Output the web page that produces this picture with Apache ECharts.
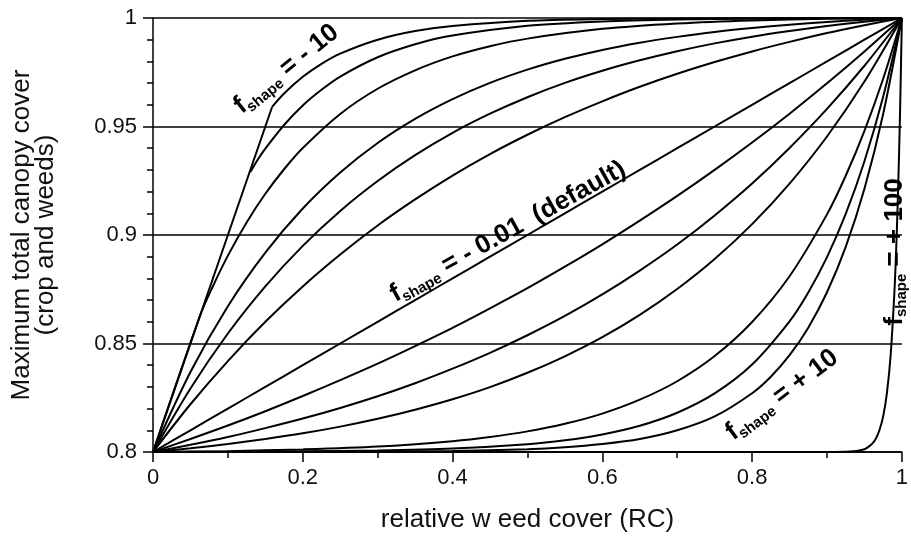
<!DOCTYPE html>
<html>
<head>
<meta charset="utf-8">
<script src="https://cdn.jsdelivr.net/npm/echarts@6/dist/echarts.min.js"></script>
<style>
  html, body { margin: 0; padding: 0; background: #fff; }
  #chart { width: 911px; height: 554px; }
</style>
</head>
<body>
<div id="chart"></div>
<script>
// Maximum total canopy cover (crop + weeds) versus relative weed cover,
// one curve per shape factor f_shape.

// Upper limit shared by the steepest curves before they bend away
const rcLimit = [0, 0.159];
const ccLimit = [0.8, 0.959];

// f_shape = -10
const rcNeg10 = [0.159, 0.175, 0.2, 0.225, 0.25, 0.3, 0.35, 0.4, 0.5, 0.6, 0.7, 0.8, 1];
const ccNeg10 = [0.959, 0.9652, 0.9729, 0.9789, 0.9836, 0.990, 0.994, 0.9963, 0.9987, 0.9995, 0.9998, 0.9999, 1];

// f_shape = -8
const rcNeg8 = [0.13, 0.14, 0.15, 0.175, 0.2, 0.225, 0.25, 0.3, 0.35, 0.4, 0.5, 0.6, 0.7, 0.8, 1];
const ccNeg8 = [0.929, 0.9348, 0.9398, 0.9507, 0.9597, 0.9669, 0.973, 0.9819, 0.9879, 0.9919, 0.9964, 0.9984, 0.9993, 0.9997, 1];

// f_shape = -6
const rcNeg6 = [0, 0.063, 0.08, 0.1, 0.125, 0.15, 0.175, 0.2, 0.25, 0.3, 0.35, 0.4, 0.45, 0.5, 0.6, 0.7, 0.8, 0.9, 1];
const ccNeg6 = [0.8, 0.863, 0.8764, 0.8905, 0.9058, 0.919, 0.9303, 0.9401, 0.9558, 0.9674, 0.9759, 0.9823, 0.987, 0.9905, 0.995, 0.9975, 0.9989, 0.9996, 1];

// Curves read on a common RC grid
const rcGrid = [0, 0.05, 0.1, 0.15, 0.2, 0.25, 0.3, 0.35, 0.4, 0.45, 0.5,
                0.55, 0.6, 0.65, 0.7, 0.75, 0.8, 0.85, 0.9, 0.95, 1];
const ccNeg4 = [0.8, 0.8369, 0.8672, 0.8919, 0.9122, 0.9288, 0.9424, 0.9535, 0.9626, 0.9701, 0.9762,
                0.9812, 0.9853, 0.9886, 0.9913, 0.9936, 0.9954, 0.9969, 0.9982, 0.9992, 1];
const ccNeg3 = [0.8, 0.8293, 0.8546, 0.8763, 0.895, 0.9111, 0.9249, 0.9368, 0.9471, 0.9559, 0.9635,
                0.9701, 0.9757, 0.9805, 0.9847, 0.9883, 0.9914, 0.994, 0.9963, 0.9983, 1];
const ccNeg2 = [0.8, 0.822, 0.8419, 0.86, 0.8763, 0.891, 0.9044, 0.9164, 0.9274, 0.9373, 0.9462,
                0.9543, 0.9616, 0.9683, 0.9743, 0.9797, 0.9846, 0.989, 0.9931, 0.9967, 1];
const ccDefault = [0.8, 0.81, 0.82, 0.83, 0.84, 0.85, 0.86, 0.87, 0.88, 0.89, 0.90,
                   0.91, 0.92, 0.93, 0.94, 0.95, 0.96, 0.97, 0.98, 0.99, 1];
const ccPos1 = [0.8, 0.806, 0.8122, 0.8188, 0.8258, 0.8331, 0.8407, 0.8488, 0.8572, 0.8662, 0.8755,
                0.8854, 0.8957, 0.9066, 0.918, 0.93, 0.9426, 0.9559, 0.9699, 0.9846, 1];
const ccPos2 = [0.8, 0.8033, 0.8069, 0.811, 0.8154, 0.8203, 0.8257, 0.8317, 0.8384, 0.8457, 0.8538,
                0.8627, 0.8726, 0.8836, 0.8956, 0.909, 0.9237, 0.9401, 0.9581, 0.978, 1];
const ccPos3 = [0.8, 0.8017, 0.8037, 0.806, 0.8086, 0.8117, 0.8153, 0.8195, 0.8243, 0.8299, 0.8365,
                0.8441, 0.8529, 0.8632, 0.8751, 0.8889, 0.905, 0.9237, 0.9454, 0.9707, 1];

// f_shape = +6
const rcPos6 = [0, 0.1, 0.2, 0.3, 0.4, 0.45, 0.5, 0.55, 0.6, 0.65, 0.7, 0.75, 0.8, 0.85, 0.9, 0.925, 0.95, 0.975, 1];
const ccPos6 = [0.8, 0.8004, 0.8012, 0.8025, 0.805, 0.8069, 0.8095, 0.813, 0.8177, 0.8241, 0.8326, 0.8442, 0.8599, 0.881, 0.9095, 0.9273, 0.948, 0.972, 1];

// f_shape = +8
const rcPos8 = [0, 0.2, 0.3, 0.4, 0.5, 0.55, 0.6, 0.65, 0.7, 0.75, 0.8, 0.85, 0.875, 0.9, 0.925, 0.95, 0.975, 1];
const ccPos8 = [0.8, 0.8003, 0.8007, 0.8016, 0.8036, 0.8054, 0.8081, 0.8121, 0.8181, 0.827, 0.8403, 0.8602, 0.8735, 0.8898, 0.9097, 0.934, 0.9637, 1];

// f_shape = +10
const rcPos10 = [0, 0.3, 0.4, 0.5, 0.55, 0.6, 0.65, 0.7, 0.75, 0.8, 0.825, 0.85, 0.875, 0.9, 0.925, 0.95, 0.975, 1];
const ccPos10 = [0.8, 0.8002, 0.8005, 0.8013, 0.8022, 0.8037, 0.806, 0.81, 0.8164, 0.8271, 0.8347, 0.8446, 0.8573, 0.8736, 0.8945, 0.9213, 0.9558, 1];

// f_shape = +100
const rcPos100 = [0, 0.9, 0.93, 0.95, 0.96, 0.965, 0.97, 0.975, 0.98, 0.985, 0.99, 0.9925, 0.995, 0.9975, 1];
const ccPos100 = [0.8, 0.8, 0.8002, 0.8013, 0.8037, 0.806, 0.81, 0.8164, 0.8271, 0.8446, 0.8736, 0.8945, 0.9213, 0.9558, 1];

// Axis ticks
const rcTicks = [0, 0.2, 0.4, 0.6, 0.8, 1];
const ccTicks = [0.8, 0.85, 0.9, 0.95, 1];

// Curve annotations: text, anchor (RC, CC) and slope angle in degrees
const noteValues = ['- 10', '- 0.01  (default)', '+ 10', '+ 100'];
const noteRC = [0.178, 0.474, 0.840, 0.990];
const noteCC = [0.9765, 0.9015, 0.8263, 0.8922];
const noteAngle = [39, 29, 37, 90];

const pairs = (xs, ys) => xs.map((x, i) => [x, ys[i]]);

const curves = [
  pairs(rcLimit, ccLimit),
  pairs(rcNeg10, ccNeg10),
  pairs(rcNeg8, ccNeg8),
  pairs(rcNeg6, ccNeg6),
  pairs(rcGrid, ccNeg4),
  pairs(rcGrid, ccNeg3),
  pairs(rcGrid, ccNeg2),
  pairs(rcGrid, ccDefault),
  pairs(rcGrid, ccPos1),
  pairs(rcGrid, ccPos2),
  pairs(rcGrid, ccPos3),
  pairs(rcPos6, ccPos6),
  pairs(rcPos8, ccPos8),
  pairs(rcPos10, ccPos10),
  pairs(rcPos100, ccPos100)
];

const FONT = '"Liberation Sans", Arial, sans-serif';
const INK = '#111';

const chart = echarts.init(document.getElementById('chart'), null, { renderer: 'canvas' });

chart.setOption({
  animation: false,
  backgroundColor: '#fff',
  grid: { left: 153, right: 3, top: 18, bottom: 102 },
  xAxis: {
    type: 'value',
    min: rcTicks[0],
    max: rcTicks[rcTicks.length - 1],
    interval: rcTicks[1] - rcTicks[0],
    name: 'relative w eed cover (RC)',
    nameLocation: 'middle',
    nameGap: 55,
    nameTextStyle: { color: INK, fontSize: 26, fontFamily: FONT },
    axisLine: { show: true, onZero: false, lineStyle: { color: '#000', width: 1.5 } },
    axisTick: { show: true, inside: false, length: 10, lineStyle: { color: '#000', width: 1.5 } },
    minorTick: { show: true, splitNumber: 2, length: 6, lineStyle: { color: '#000', width: 1.5 } },
    axisLabel: {
      color: INK, fontSize: 22, fontFamily: FONT, margin: 15,
      formatter: v => String(+v.toFixed(2))
    },
    splitLine: { show: false }
  },
  yAxis: {
    type: 'value',
    min: ccTicks[0],
    max: ccTicks[ccTicks.length - 1],
    interval: 0.05,
    name: 'Maximum total canopy cover\n(crop and weeds)',
    nameLocation: 'middle',
    nameGap: 95,
    nameTextStyle: { color: INK, fontSize: 26, fontFamily: FONT, lineHeight: 24 },
    axisLine: { show: true, lineStyle: { color: '#000', width: 1.5 } },
    axisTick: { show: true, inside: false, length: 10, lineStyle: { color: '#000', width: 1.5 } },
    minorTick: { show: true, splitNumber: 5, length: 6, lineStyle: { color: '#000', width: 1.5 } },
    axisLabel: {
      color: INK, fontSize: 22, fontFamily: FONT, margin: 16,
      formatter: v => String(+v.toFixed(2))
    },
    splitLine: { show: true, lineStyle: { color: '#000', width: 1.5 } }
  },
  series: curves.map(data => ({
    type: 'line',
    data: data,
    showSymbol: false,
    silent: true,
    smooth: 0.3,
    lineStyle: { color: '#000', width: 2 },
    z: 3
  }))
});

// Rotated labels with the subscripted shape factor name
const richStyles = {
  f: { fontSize: 26, fontWeight: 'bold', fontFamily: FONT, color: INK, lineHeight: 30, verticalAlign: 'middle' },
  s: { fontSize: 15, fontWeight: 'bold', fontFamily: FONT, color: INK, lineHeight: 15, verticalAlign: 'bottom' },
  t: { fontSize: 26, fontWeight: 'bold', fontFamily: FONT, color: INK, lineHeight: 30, verticalAlign: 'middle' }
};

chart.setOption({
  graphic: noteValues.map((txt, i) => {
    const p = chart.convertToPixel({ gridIndex: 0 }, [noteRC[i], noteCC[i]]);
    return {
      type: 'text',
      x: p[0],
      y: p[1],
      rotation: noteAngle[i] * Math.PI / 180,
      z: 10,
      style: {
        text: '{f|f}{s|shape}{t| = ' + txt + '}',
        rich: richStyles,
        align: 'center',
        verticalAlign: 'middle'
      }
    };
  })
});
</script>
</body>
</html>
